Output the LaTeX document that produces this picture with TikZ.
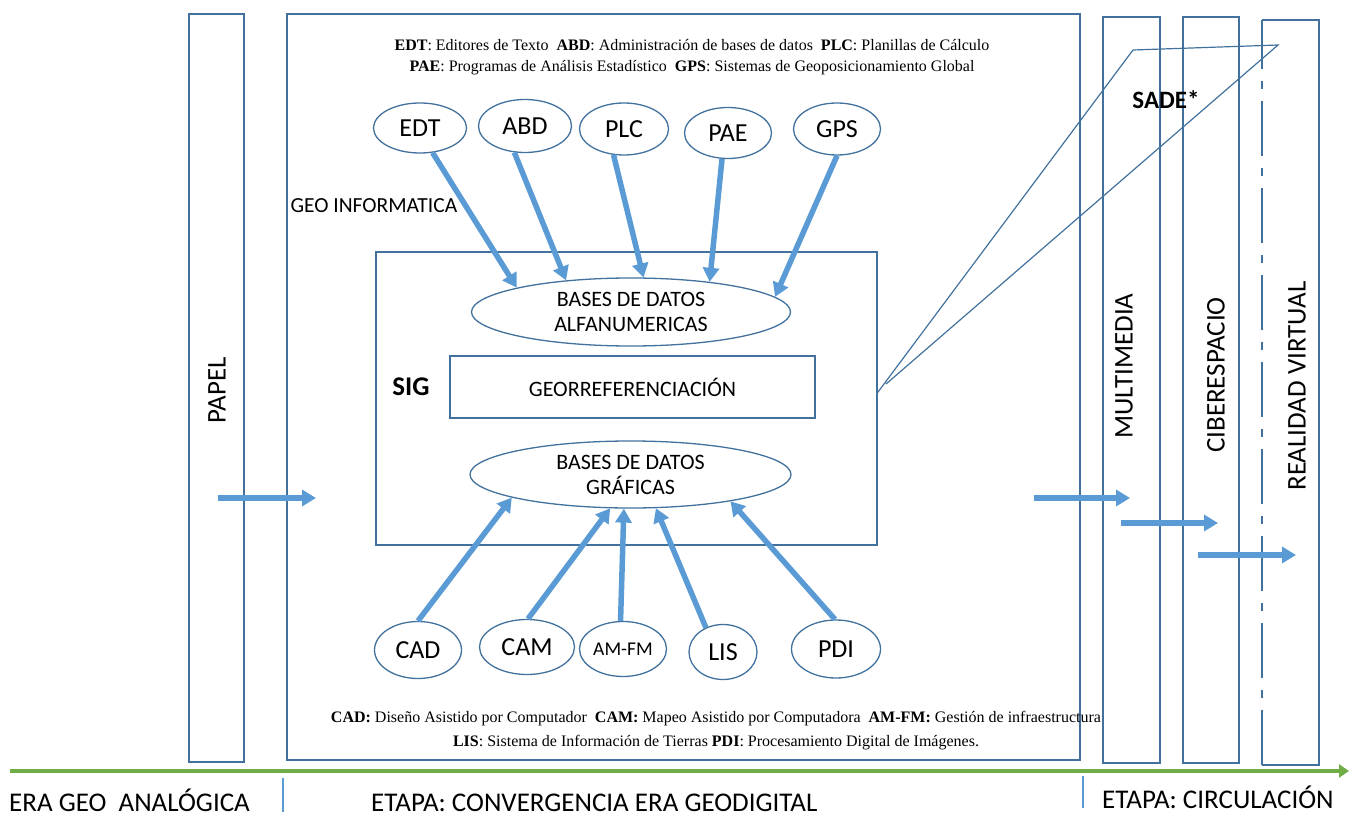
\documentclass[tikz,border=0pt]{standalone}
\usepackage{fontspec}
\setmainfont{Liberation Serif}
\newfontfamily\calibri{Carlito}
\usetikzlibrary{shapes.geometric, arrows.meta}
\definecolor{boxblue}{HTML}{41719C}
\definecolor{arrblue}{HTML}{5B9BD5}
\definecolor{axgreen}{HTML}{70AD47}

\begin{document}
\begin{tikzpicture}[x=1pt,y=-1pt]
\tikzstyle{panel}=[draw=boxblue,line width=1.3pt,inner sep=0pt]
\tikzstyle{tool}=[ellipse,draw=boxblue,line width=1.3pt,minimum width=90pt,minimum height=52pt,inner sep=0pt,font=\calibri\fontsize{26}{28}\selectfont]
\tikzstyle{base}=[ellipse,draw=boxblue,line width=1.3pt,inner sep=0pt,align=center,font=\calibri\fontsize{22}{25}\selectfont]
\tikzstyle{flow}=[arrblue,line width=5.5pt,-{Triangle[width=16pt,length=14pt]}]
\tikzstyle{legend}=[align=center,font=\fontsize{16}{21}\selectfont]
\tikzstyle{vlabel}=[rotate=90,font=\calibri\fontsize{27}{29}\selectfont]
\tikzstyle{stage}=[anchor=base west,inner sep=1pt,font=\calibri\fontsize{27}{29}\selectfont]

\useasboundingbox (0,0) rectangle (1349,818);

%--- panels ---
\node[panel,minimum width=55pt,minimum height=748pt] (papel) at (216.5,388) {};
\node[panel,minimum width=793pt,minimum height=746pt] (conv) at (683.5,387) {};
\node[panel,minimum width=57pt,minimum height=746pt] (multi) at (1131.5,390) {};
\node[panel,minimum width=56pt,minimum height=746pt] (ciber) at (1211,390) {};
\draw[boxblue,line width=1.3pt,dash pattern=on 55pt off 12pt on 8pt off 12pt]
  (1262,765) -- (1262,20);
\draw[boxblue,line width=1.3pt] (1262,20) -- (1319,20) -- (1319,765) -- (1262,765);

\node[vlabel] (lpapel) at (217,390) {PAPEL};
\node[vlabel] (lmulti) at (1124,366) {MULTIMEDIA};
\node[vlabel] (lciber) at (1216,375) {CIBERESPACIO};
\node[vlabel] (lrv) at (1297,386) {REALIDAD VIRTUAL};

%--- legends ---
\node[legend] (leyenda1) at (692,57) {\textbf{EDT}: Editores de Texto\ \ \textbf{ABD}: Administración de bases de datos\ \ \textbf{PLC}: Planillas de Cálculo\\
\textbf{PAE}: Programas de Análisis Estadístico\ \ \textbf{GPS}: Sistemas de Geoposicionamiento Global};
\node[legend,font=\fontsize{16}{24}\selectfont] (leyenda2) at (716,731) {\textbf{CAD:} Diseño Asistido por Computador\ \ \textbf{CAM:} Mapeo Asistido por Computadora\ \ \textbf{AM-FM:} Gestión de infraestructura\\
\textbf{LIS}: Sistema de Información de Tierras \textbf{PDI}: Procesamiento Digital de Imágenes.};

\node[anchor=west,font=\calibri\fontsize{21.5}{23}\selectfont] (geoinf) at (287,206) {GEO INFORMATICA};

%--- SIG ---
\node[panel,minimum width=501pt,minimum height=293pt] (sig) at (626.5,398.5) {};
\node[font=\calibri\bfseries\fontsize{27}{29}\selectfont] (lsig) at (411,387) {SIG};
\node[panel,minimum width=365pt,minimum height=62pt,font=\calibri\fontsize{22}{24}\selectfont] (geo) at (632.5,387) {GEORREFERENCIACIÓN};
\node[base,minimum width=319pt,minimum height=68pt] (alfa) at (631,312) {BASES DE DATOS\\ALFANUMERICAS};
\node[base,minimum width=321pt,minimum height=67pt] (graf) at (630.5,474.5) {BASES DE DATOS\\GRÁFICAS};

%--- tools ---
\node[tool,minimum width=93pt,minimum height=50pt] (edt) at (420,128) {EDT};
\node[tool,minimum width=93pt,minimum height=53pt] (abd) at (525,126) {ABD};
\node[tool,minimum width=89pt] (plc) at (624,129) {PLC};
\node[tool,minimum width=87pt,minimum height=51pt] (pae) at (728,133) {PAE};
\node[tool,minimum width=87pt] (gps) at (837,129) {GPS};
\node[tool,minimum width=87pt,minimum height=57pt] (cad) at (418,650) {CAD};
\node[tool,minimum width=95pt,minimum height=55pt] (cam) at (527,647) {CAM};
\node[tool,minimum width=87pt,minimum height=55pt,font=\calibri\fontsize{19.5}{21}\selectfont] (amfm) at (623,649) {AM-FM};
\node[tool,minimum width=68pt,minimum height=55pt] (lis) at (723,652) {LIS};
\node[tool,minimum width=89pt,minimum height=58pt] (pdi) at (836,649) {PDI};

%--- flows ---
\draw[flow] (edt.-63) -- (alfa.168);
\draw[flow] (abd.-112) -- (alfa.154);
\draw[flow] (plc.-112) -- (alfa.70);
\draw[flow] (pae.-103) -- (alfa.21);
\draw[flow] (gps.-90) -- (alfa.6);
\draw[flow] (cad.90) -- (graf.191);
\draw[flow] (cam.88) -- (graf.-121);
\draw[flow] (amfm.95) -- (graf.-101);
\draw[flow] (lis.125) -- (graf.-53);
\draw[flow] (pdi.92) -- (graf.-15);

\coordinate (a1) at (218,498);
\coordinate (a2) at (316,498);
\coordinate (b1) at (1034,498);
\coordinate (b2) at (1130,498);
\coordinate (c1) at (1121,523);
\coordinate (c2) at (1218,523);
\coordinate (d1) at (1198,555);
\coordinate (d2) at (1296,555);
\draw[flow] (a1) -- (a2);
\draw[flow] (b1) -- (b2);
\draw[flow] (c1) -- (c2);
\draw[flow] (d1) -- (d2);

%--- SADE ---
\coordinate (s1) at (1133,50);
\coordinate (s2) at (1278,45);
\draw[boxblue,line width=1.2pt] (sig.east) ++(0,-6) -- (s1) -- (s2) -- (886,384);
\node[font=\calibri\bfseries\fontsize{25}{27}\selectfont] (sade) at (1166,100) {SADE*};

%--- time axis ---
\coordinate (t0) at (10,771);
\coordinate (t1) at (1349,771);
\draw[axgreen,line width=4pt,-{Triangle[width=13pt,length=10pt]}] (t0) -- (t1);
\draw[arrblue,line width=1.5pt] (283,778) -- (283,812);
\draw[arrblue,line width=1.5pt] (1083,776) -- (1083,808);
\node[stage] (era) at (8,811) {ERA GEO\ \ ANALÓGICA};
\node[stage] (etapa1) at (370,811) {ETAPA: CONVERGENCIA ERA GEODIGITAL};
\node[stage] (etapa2) at (1101,808) {ETAPA: CIRCULACIÓN};

\end{tikzpicture}
\end{document}
